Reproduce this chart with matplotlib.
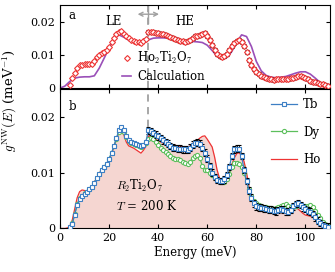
import matplotlib
matplotlib.use("Agg")
import matplotlib.pyplot as plt
import numpy as np

plt.rcParams['font.family'] = 'serif'
plt.rcParams['font.serif'] = ['DejaVu Serif']
plt.rcParams['mathtext.fontset'] = 'cm'
plt.rcParams['font.size'] = 8

# ---- panel a: Ho2Ti2O7 measured (LE below 36 meV, HE above) ----
ho_a_E = list(range(4, 110))
ho_a_g = [0.0010, 0.0030, 0.0045, 0.0060, 0.0068, 0.0070, 0.0071, 0.0071, 0.0071, 0.0073,
          0.0082, 0.0092, 0.0100, 0.0106, 0.0110, 0.0115, 0.0124, 0.0138, 0.0152, 0.0163,
          0.0170, 0.0171, 0.0164, 0.0156, 0.0150, 0.0146, 0.0142, 0.0140, 0.0138, 0.0137,
          0.0141, 0.0148,
          0.0170, 0.0169, 0.0168, 0.0167, 0.0165, 0.0163, 0.0162, 0.0160, 0.0158, 0.0155,
          0.0152, 0.0148, 0.0145, 0.0143, 0.0141, 0.0140, 0.0142, 0.0146, 0.0152, 0.0156,
          0.0158, 0.0161, 0.0164, 0.0166, 0.0158, 0.0146, 0.0130, 0.0115, 0.0103, 0.0096,
          0.0094, 0.0096, 0.0104, 0.0115, 0.0127, 0.0135, 0.0141, 0.0145, 0.0138, 0.0128,
          0.0108, 0.0085, 0.0068, 0.0056, 0.0048, 0.0042, 0.0037, 0.0033, 0.0029, 0.0027,
          0.0026, 0.0025, 0.0026, 0.0027, 0.0026, 0.0027, 0.0028, 0.0027, 0.0029, 0.0031,
          0.0033, 0.0035, 0.0035, 0.0034, 0.0030, 0.0026, 0.0022, 0.0019, 0.0017, 0.0015,
          0.0013, 0.0011, 0.0009, 0.0007]
ho_a_err = [0.0002] * 32 + [0.0006] * (len(ho_a_E) - 32)

calc_E = list(range(0, 112, 2))
calc_g = [0.0000, 0.0006, 0.0020, 0.0030, 0.0033, 0.0034, 0.0034, 0.0037, 0.0060, 0.0090,
          0.0120, 0.0148, 0.0160, 0.0153, 0.0144, 0.0137, 0.0133, 0.0136, 0.0145, 0.0150,
          0.0151, 0.0151, 0.0150, 0.0148, 0.0145, 0.0143, 0.0141, 0.0140, 0.0139, 0.0137,
          0.0129, 0.0113, 0.0096, 0.0087, 0.0092, 0.0110, 0.0138, 0.0160, 0.0155, 0.0125,
          0.0080, 0.0052, 0.0038, 0.0033, 0.0031, 0.0033, 0.0035, 0.0040, 0.0045, 0.0049,
          0.0049, 0.0042, 0.0030, 0.0017, 0.0007, 0.0001]

# ---- panel b: R2Ti2O7 at T = 200 K ----
tb_E = list(range(4, 110))
tb_g = [0.0002, 0.0008, 0.0025, 0.0042, 0.0053, 0.0058, 0.0062, 0.0066, 0.0070, 0.0075,
        0.0082, 0.0090, 0.0098, 0.0105, 0.0110, 0.0116, 0.0125, 0.0135, 0.0148, 0.0162,
        0.0176, 0.0181, 0.0176, 0.0166, 0.0158, 0.0155, 0.0153, 0.0151, 0.0149, 0.0147,
        0.0150, 0.0155,
        0.0176, 0.0174, 0.0171, 0.0168, 0.0165, 0.0162, 0.0158, 0.0155, 0.0152, 0.0148,
        0.0145, 0.0144, 0.0143, 0.0143, 0.0142, 0.0142, 0.0141, 0.0145, 0.0150, 0.0153,
        0.0154, 0.0152, 0.0145, 0.0136, 0.0125, 0.0112, 0.0100, 0.0092, 0.0087, 0.0085,
        0.0085, 0.0088, 0.0096, 0.0110, 0.0130, 0.0142, 0.0143, 0.0143, 0.0130, 0.0105,
        0.0085, 0.0068, 0.0055, 0.0045, 0.0040, 0.0038, 0.0037, 0.0036, 0.0035, 0.0034,
        0.0034, 0.0032, 0.0031, 0.0033, 0.0035, 0.0034, 0.0031, 0.0030, 0.0033, 0.0040,
        0.0044, 0.0045, 0.0042, 0.0038, 0.0035, 0.0032, 0.0030, 0.0026, 0.0020, 0.0014,
        0.0010, 0.0006, 0.0004, 0.0003]
tb_err = [0.0001] * 32 + [0.0006] * (len(tb_E) - 32)

dy_E = list(range(4, 110))
dy_g = [0.0002, 0.0009, 0.0026, 0.0043, 0.0054, 0.0059, 0.0063, 0.0066, 0.0070, 0.0075,
        0.0082, 0.0090, 0.0098, 0.0104, 0.0110, 0.0116, 0.0125, 0.0135, 0.0147, 0.0160,
        0.0173, 0.0178, 0.0173, 0.0164, 0.0157, 0.0154, 0.0152, 0.0150, 0.0148, 0.0146,
        0.0149, 0.0153,
        0.0160, 0.0163, 0.0160, 0.0155, 0.0150, 0.0145, 0.0140, 0.0137, 0.0134, 0.0130,
        0.0127, 0.0125, 0.0124, 0.0122, 0.0120, 0.0118, 0.0116, 0.0120, 0.0126, 0.0130,
        0.0131, 0.0126, 0.0112, 0.0104, 0.0105, 0.0100, 0.0095, 0.0090, 0.0086, 0.0084,
        0.0083, 0.0084, 0.0088, 0.0098, 0.0110, 0.0117, 0.0118, 0.0115, 0.0110, 0.0100,
        0.0085, 0.0070, 0.0058, 0.0050, 0.0045, 0.0042, 0.0040, 0.0039, 0.0038, 0.0037,
        0.0036, 0.0035, 0.0036, 0.0038, 0.0040, 0.0042, 0.0043, 0.0040, 0.0038, 0.0039,
        0.0041, 0.0042, 0.0041, 0.0040, 0.0040, 0.0041, 0.0042, 0.0038, 0.0032, 0.0025,
        0.0018, 0.0012, 0.0008, 0.0005]

ho_E = list(range(0, 111))
ho_g = [0.0000, 0.0000, 0.0000, 0.0001, 0.0004, 0.0015, 0.0035, 0.0055, 0.0066, 0.0069,
        0.0068, 0.0067, 0.0069, 0.0075, 0.0083, 0.0091, 0.0099, 0.0105, 0.0109, 0.0114,
        0.0123, 0.0133, 0.0146, 0.0160, 0.0172, 0.0175, 0.0168, 0.0155, 0.0148, 0.0146,
        0.0144, 0.0141, 0.0138, 0.0135, 0.0140, 0.0147, 0.0165, 0.0166, 0.0163, 0.0160,
        0.0157, 0.0155, 0.0153, 0.0152, 0.0151, 0.0150, 0.0149, 0.0149, 0.0148, 0.0147,
        0.0146, 0.0145, 0.0146, 0.0148, 0.0152, 0.0157, 0.0158, 0.0162, 0.0165, 0.0166,
        0.0160, 0.0153, 0.0146, 0.0128, 0.0105, 0.0090, 0.0086, 0.0085, 0.0090, 0.0102,
        0.0115, 0.0126, 0.0134, 0.0136, 0.0130, 0.0120, 0.0100, 0.0075, 0.0055, 0.0043,
        0.0037, 0.0035, 0.0034, 0.0033, 0.0032, 0.0031, 0.0030, 0.0029, 0.0030, 0.0031,
        0.0033, 0.0032, 0.0029, 0.0028, 0.0030, 0.0034, 0.0036, 0.0035, 0.0031, 0.0027,
        0.0024, 0.0023, 0.0022, 0.0020, 0.0017, 0.0013, 0.0010, 0.0007, 0.0004, 0.0002,
        0.0001]

split_E = 36

red = '#ee3333'
blue = '#3d7fc4'
green = '#5cbf5c'
purple = '#9a4fb8'
fill = '#f5d6d1'
grey = '#a0a0a0'

fig = plt.figure(figsize=(3.35, 2.72), dpi=100)
ax1 = fig.add_axes([0.179, 0.676, 0.806, 0.306])
ax2 = fig.add_axes([0.179, 0.160, 0.806, 0.513])

# panel a
ax1.axvline(split_E, color=grey, ls=(0, (4, 3)), lw=1.3, zorder=0)
calc_line, = ax1.plot(calc_E, calc_g, color=purple, lw=1.2, zorder=2)
ho_a = ax1.errorbar(ho_a_E, ho_a_g, yerr=ho_a_err, fmt='D', ms=3, mfc='white', mec=red,
                    mew=0.8, ecolor='black', elinewidth=0.6, capsize=1.2, zorder=3)
ax1.annotate('', xy=(30.5, 0.0222), xytext=(41.5, 0.0222),
             arrowprops=dict(arrowstyle='<->', color=grey, lw=1.0, mutation_scale=7))
ax1.plot([split_E, split_E], [0.0196, 0.0247], color=grey, lw=1.0)
ax1.text(22, 0.0200, 'LE', ha='center', va='center', fontsize=8.5)
ax1.text(51, 0.0200, 'HE', ha='center', va='center', fontsize=8.5)
ax1.text(3.5, 0.0218, 'a', fontsize=8.5, va='center')
ax1.set_xlim(0, 110)
ax1.set_ylim(0, 0.025)
ax1.set_yticks([0, 0.01, 0.02])
ax1.set_yticklabels(['0', '0.01', '0.02'])
ax1.set_xticks([0, 20, 40, 60, 80, 100])
ax1.tick_params(direction='in', top=True, right=True, labelbottom=False, length=3)
ax1.legend([ho_a[0], calc_line], [r'Ho$_2$Ti$_2$O$_7$', 'Calculation'],
           loc='center left', bbox_to_anchor=(0.19, 0.26),
           frameon=False, handlelength=0.8, handletextpad=0.5, labelspacing=0.3,
           fontsize=8.5, numpoints=1)

# panel b
ax2.axvline(split_E, color=grey, ls=(0, (4, 3)), lw=1.3, zorder=0)
ax2.fill_between(ho_E, ho_g, color=fill, lw=0, zorder=1)
ho_line, = ax2.plot(ho_E, ho_g, color=red, lw=0.9, zorder=2)
dy_line, = ax2.plot(dy_E, dy_g, '-o', color=green, ms=3, mfc='white', mec=green, mew=0.8,
                    lw=0.9, zorder=3)
tb = ax2.errorbar(tb_E, tb_g, yerr=tb_err, fmt='-s', color=blue, ms=3, mfc='white',
                  mec=blue, mew=0.8, lw=0.9, ecolor='black', elinewidth=0.6, capsize=1.2,
                  zorder=4)
ax2.text(23, 0.0077, r'$R_2$Ti$_2$O$_7$', fontsize=8.5, va='center')
ax2.text(23, 0.0040, r'$T$ = 200 K', fontsize=8.5, va='center')
ax2.text(3.5, 0.0218, 'b', fontsize=8.5, va='center')
ax2.set_xlim(0, 110)
ax2.set_ylim(0, 0.025)
ax2.set_yticks([0, 0.01, 0.02])
ax2.set_yticklabels(['0', '0.01', '0.02'])
ax2.set_xticks([0, 20, 40, 60, 80, 100])
ax2.tick_params(direction='in', top=True, right=True, length=3)
ax2.set_xlabel('Energy (meV)', fontsize=8.5, labelpad=2)
ax2.legend([tb[0], dy_line, ho_line], ['Tb', 'Dy', 'Ho'], loc='upper right',
           frameon=False, handlelength=2.2, handletextpad=0.5, labelspacing=1.2,
           fontsize=8.5, borderaxespad=0.4)

fig.text(0.03, 0.63, r'$g^{\mathrm{NW}}(E)$ (meV$^{-1}$)', rotation=90,
         ha='center', va='center', fontsize=9.5)

fig.savefig('out.png', dpi=100)
